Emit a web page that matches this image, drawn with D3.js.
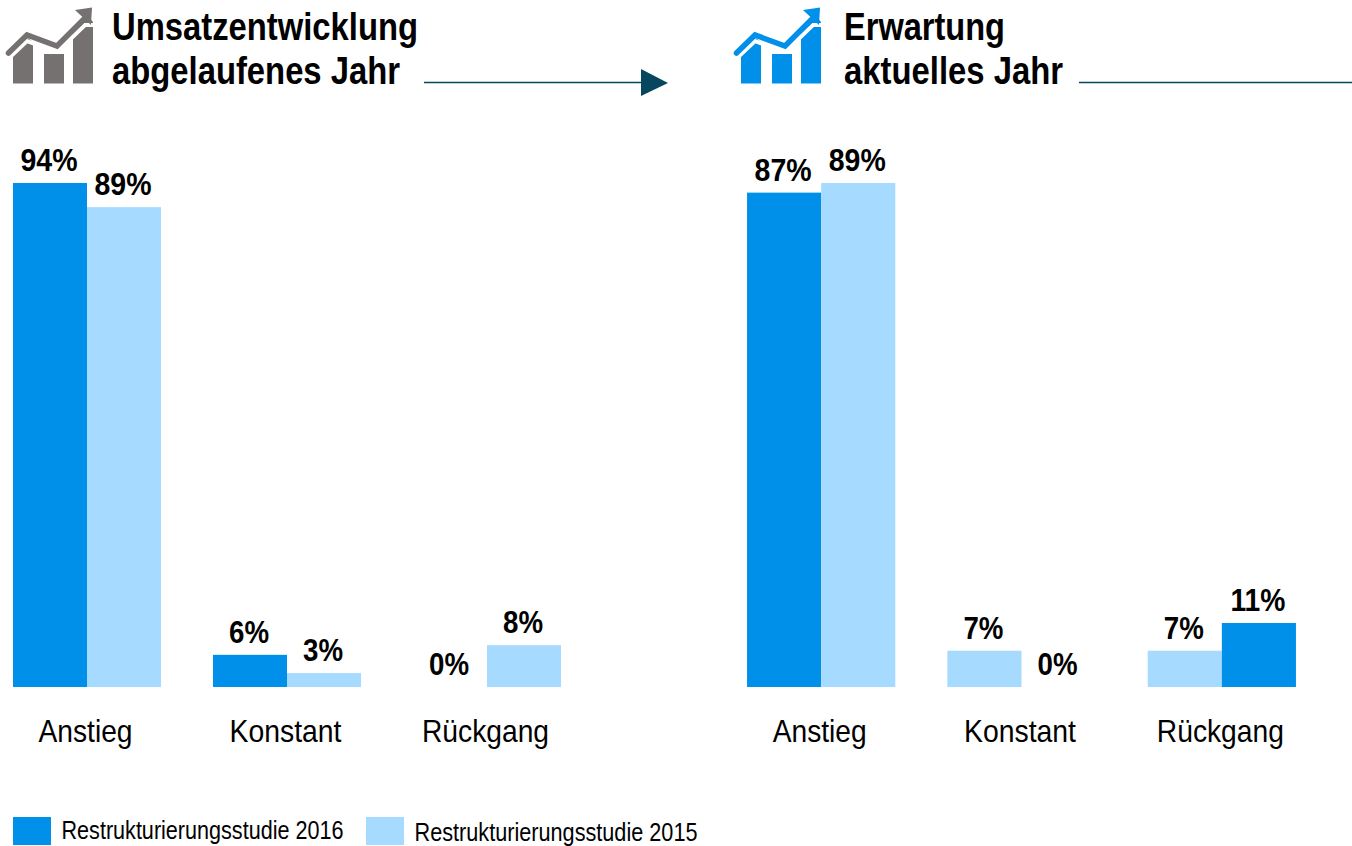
<!DOCTYPE html>
<html><head><meta charset="utf-8">
<script src="https://cdnjs.cloudflare.com/ajax/libs/d3/7.8.5/d3.min.js"></script>
<style>html,body{margin:0;padding:0;background:#fff;overflow:hidden}svg{display:block}
text{font-family:"Liberation Sans",Arial,sans-serif;fill:#000}</style></head><body>
<svg id="c" width="1352" height="846"></svg>
<script>
const categories = ["Anstieg","Konstant","Rückgang"];
const leftFirst = [94,6,0];
const leftSecond = [89.5,2.6,7.8];
const rightFirst = [87.3,6.4,6.4];
const rightSecond = [89,0,11.3];
const leftFirstLabels = ["94%","6%","0%"];
const leftSecondLabels = ["89%","3%","8%"];
const rightFirstLabels = ["87%","7%","7%"];
const rightSecondLabels = ["89%","0%","11%"];
const rightFirstSeries = [2016,2015,2015];
const rightSecondSeries = [2015,2016,2016];
const leftFirstSeries = [2016,2016,2016];
const leftSecondSeries = [2015,2015,2015];
const legendLabels = ["Restrukturierungsstudie 2016","Restrukturierungsstudie 2015"];
const DARK="#0090EA", LIGHT="#A6DBFF", NAVY="#07465F", GREY="#767171";
const color=s=>s===2016?DARK:LIGHT;
const svg=d3.select("#c");

function condensed(sel,x,y,str,size,width,weight){
  return sel.append("text").attr("x",x).attr("y",y).attr("font-size",size)
    .attr("font-weight",weight||"normal")
    .attr("textLength",width).attr("lengthAdjust","spacingAndGlyphs").text(str);
}
function panel(x0,x1,pxMax,domMax,first,second,fl,sl,fs,ss){
  const x=d3.scaleBand().domain(categories).range([x0,x1]).paddingInner(.26).paddingOuter(.13);
  const y=d3.scaleLinear().domain([0,domMax]).range([687,687-pxMax]);
  const g=svg.append("g");
  const w=x.bandwidth()/2;
  const lw={"94%":57,"89%":57,"87%":57,"6%":40,"3%":40,"8%":40,"7%":40,"0%":40,"11%":55};
  categories.forEach((c,i)=>{
    [[first,fl,fs,0],[second,sl,ss,1]].forEach(([v,l,s,k])=>{
      const bx=x(c)+k*w;
      if(v[i]>0) g.append("rect").attr("x",bx).attr("y",y(v[i])).attr("width",w).attr("height",687-y(v[i])).attr("fill",color(s[i]));
      const tw=lw[l[i]];
      condensed(g,bx+w/2-tw/2-1,y(v[i])-12,l[i],31,tw,"bold");
    });
    const lab={"Anstieg":94,"Konstant":112,"Rückgang":127}[c];
    condensed(g,x(c)+x.bandwidth()/2-lab/2-1.5,742,c,32,lab);
  });
}
panel(-13,587,504,94,leftFirst,leftSecond,leftFirstLabels,leftSecondLabels,leftFirstSeries,leftSecondSeries);
panel(721,1322,504,89,rightFirst,rightSecond,rightFirstLabels,rightSecondLabels,rightFirstSeries,rightSecondSeries);

// headings
condensed(svg,112,40,"Umsatzentwicklung",38,306,"bold");
condensed(svg,112,84,"abgelaufenes Jahr",38,288,"bold");
condensed(svg,844,40,"Erwartung",38,161,"bold");
condensed(svg,844,84,"aktuelles Jahr",38,219,"bold");

// rules
svg.append("line").attr("x1",424).attr("x2",645).attr("y1",82.5).attr("y2",82.5).attr("stroke",NAVY).attr("stroke-width",1.6);
svg.append("path").attr("d","M641,69L668,83L641,96Z").attr("fill",NAVY);
svg.append("line").attr("x1",1079).attr("x2",1352).attr("y1",82.5).attr("y2",82.5).attr("stroke",NAVY).attr("stroke-width",1.6);

// icons
function icon(dx,col){
  const g=svg.append("g").attr("transform",`translate(${dx},0)`).attr("fill",col);
  g.append("path").attr("d","M13,83.5V53L28,38L33,42V83.5Z");
  g.append("rect").attr("x",44).attr("y",54).attr("width",20).attr("height",29.5);
  g.append("path").attr("d","M73,83.5V31L88,16L93,22V83.5Z");
  g.append("path").attr("d","M9,58L27,41L57,52L85,25L93,25").attr("fill","none").attr("stroke","#fff").attr("stroke-width",4);
  g.append("path").attr("d","M8.5,53L27,35L57,46L84,19").attr("fill","none").attr("stroke",col).attr("stroke-width",5.5).attr("stroke-linecap","round");
  g.append("path").attr("d","M75,10L92,7.5L91,25Z");
}
icon(0,GREY); icon(728,DARK);

// legend
svg.append("rect").attr("x",13).attr("y",817).attr("width",38).attr("height",28).attr("fill",DARK);
svg.append("rect").attr("x",366).attr("y",817).attr("width",38).attr("height",28).attr("fill",LIGHT);
condensed(svg,61.5,838.5,legendLabels[0],25.5,282);
condensed(svg,414.5,841,legendLabels[1],25,283);
</script></body></html>
